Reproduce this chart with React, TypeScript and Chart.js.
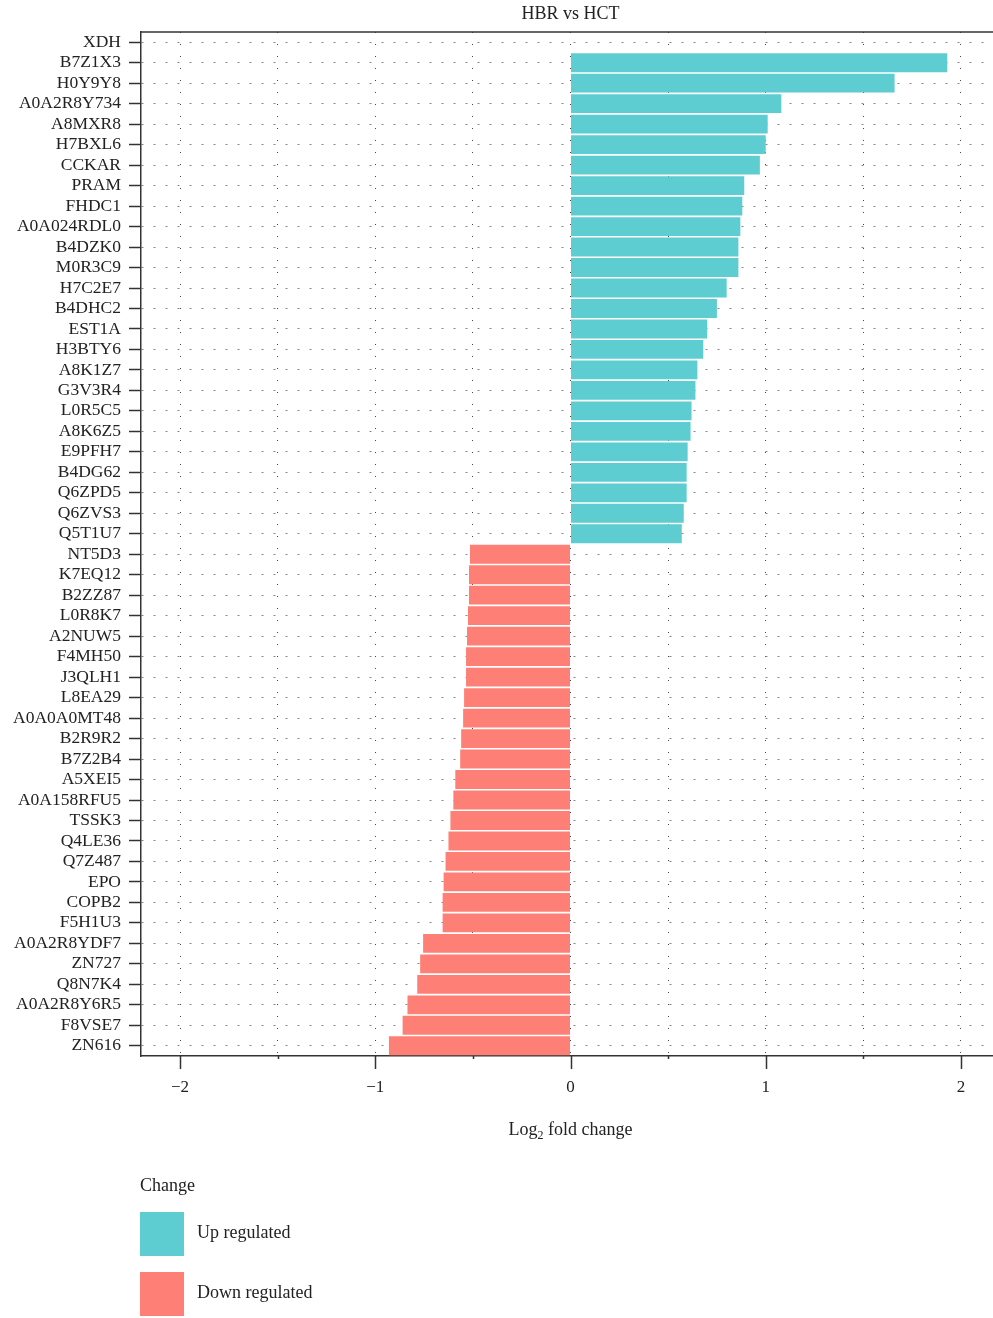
import React, { useEffect, useRef } from "react";
import { Chart, registerables } from "chart.js";

Chart.register(...registerables);

const geneLabels = [
  "XDH", "B7Z1X3", "H0Y9Y8", "A0A2R8Y734", "A8MXR8", "H7BXL6", "CCKAR", "PRAM", "FHDC1", "A0A024RDL0",
  "B4DZK0", "M0R3C9", "H7C2E7", "B4DHC2", "EST1A", "H3BTY6", "A8K1Z7", "G3V3R4", "L0R5C5", "A8K6Z5",
  "E9PFH7", "B4DG62", "Q6ZPD5", "Q6ZVS3", "Q5T1U7", "NT5D3", "K7EQ12", "B2ZZ87", "L0R8K7", "A2NUW5",
  "F4MH50", "J3QLH1", "L8EA29", "A0A0A0MT48", "B2R9R2", "B7Z2B4", "A5XEI5", "A0A158RFU5", "TSSK3", "Q4LE36",
  "Q7Z487", "EPO", "COPB2", "F5H1U3", "A0A2R8YDF7", "ZN727", "Q8N7K4", "A0A2R8Y6R5", "F8VSE7", "ZN616",
];

const log2FoldChange: (number | null)[] = [
  null, 1.93, 1.66, 1.08, 1.01, 1.0, 0.97, 0.89, 0.88, 0.87,
  0.86, 0.86, 0.8, 0.75, 0.7, 0.68, 0.65, 0.64, 0.62, 0.615,
  0.6, 0.595, 0.595, 0.58, 0.57, -0.515, -0.52, -0.52, -0.525, -0.53,
  -0.535, -0.535, -0.545, -0.55, -0.56, -0.565, -0.59, -0.6, -0.615, -0.625,
  -0.64, -0.65, -0.655, -0.655, -0.755, -0.77, -0.785, -0.835, -0.86, -0.93,
];

const xTickValues = [-2, -1.5, -1, -0.5, 0, 0.5, 1, 1.5, 2];
const chartTitle = "HBR vs HCT";
const legendTitle = "Change";
const legendLabels = ["Up regulated", "Down regulated"];

const UP_COLOR = "#5ECDD1";
const DOWN_COLOR = "#FE7F76";
const FONT = "'Liberation Serif', 'DejaVu Serif', serif";

const decorPlugin = {
  id: "decor",
  afterDraw(chart: any) {
    const { ctx, chartArea, scales } = chart;
    const xs = scales.x;
    ctx.save();
    ctx.strokeStyle = "#333";
    ctx.lineWidth = 1.5;
    ctx.beginPath();
    ctx.moveTo(chartArea.left, chartArea.top);
    ctx.lineTo(chartArea.right, chartArea.top);
    ctx.stroke();
    for (const v of xTickValues) {
      const px = Math.round(xs.getPixelForValue(v)) + 0.5;
      const len = Number.isInteger(v) ? 13 : 3;
      ctx.beginPath();
      ctx.moveTo(px, chartArea.bottom);
      ctx.lineTo(px, chartArea.bottom + len);
      ctx.stroke();
    }
    ctx.fillStyle = "#222";
    ctx.font = `18px ${FONT}`;
    ctx.textAlign = "center";
    ctx.textBaseline = "middle";
    const cx = (chartArea.left + chartArea.right) / 2;
    ctx.fillText(chartTitle, cx, 14);
    const big = `18px ${FONT}`;
    const small = `12px ${FONT}`;
    ctx.textAlign = "left";
    ctx.font = big;
    const w1 = ctx.measureText("Log").width;
    const w3 = ctx.measureText(" fold change").width;
    ctx.font = small;
    const w2 = ctx.measureText("2").width;
    const x0 = cx - (w1 + w2 + w3) / 2;
    const ty = 1130;
    ctx.font = big;
    ctx.fillText("Log", x0, ty);
    ctx.font = small;
    ctx.fillText("2", x0 + w1, ty + 6);
    ctx.font = big;
    ctx.fillText(" fold change", x0 + w1 + w2, ty);
    ctx.font = big;
    ctx.fillText(legendTitle, 140, 1186);
    const colors = [UP_COLOR, DOWN_COLOR];
    const tops = [1212, 1272];
    for (let i = 0; i < 2; i++) {
      ctx.fillStyle = colors[i];
      ctx.fillRect(140, tops[i], 44, 44);
      ctx.fillStyle = "#222";
      ctx.fillText(legendLabels[i], 197, tops[i] + 21);
    }
    ctx.restore();
  },
};

export default function App() {
  const ref = useRef<HTMLCanvasElement | null>(null);
  useEffect(() => {
    if (!ref.current) return;
    const upData = log2FoldChange.map((v) => (v !== null && v > 0 ? v : null));
    const downData = log2FoldChange.map((v) => (v !== null && v < 0 ? v : null));
    const chart = new Chart(ref.current, {
      type: "bar",
      data: {
        labels: geneLabels,
        datasets: [
          { label: legendLabels[0], data: upData, backgroundColor: UP_COLOR, grouped: false, barPercentage: 0.92, categoryPercentage: 1 },
          { label: legendLabels[1], data: downData, backgroundColor: DOWN_COLOR, grouped: false, barPercentage: 0.92, categoryPercentage: 1 },
        ],
      },
      options: {
        indexAxis: "y",
        responsive: false,
        animation: false,
        layout: { padding: { top: 32, left: 0, right: 0, bottom: 0 } },
        plugins: { legend: { display: false }, tooltip: { enabled: false }, title: { display: false } },
        scales: {
          x: {
            type: "linear",
            min: -2.2,
            max: 2.2,
            afterFit: (s: any) => { s.height = 262; },
            ticks: {
              stepSize: 0.5,
              includeBounds: false,
              autoSkip: false,
              maxRotation: 0,
              padding: 21,
              color: "#222",
              font: { family: FONT, size: 17 },
              callback: (v: any) => {
                const n = Number(v);
                if (!Number.isInteger(n)) return "";
                return n < 0 ? "\u2212" + Math.abs(n) : String(n);
              },
            },
            grid: { display: true, drawTicks: false, color: "#444", lineWidth: 1 },
            border: { display: true, color: "#333", width: 1.5, dash: [1, 11] },
          },
          y: {
            type: "category",
            offset: true,
            afterFit: (s: any) => { s.width = 141; },
            ticks: { padding: 8, color: "#222", autoSkip: false, font: { family: FONT, size: 17.5 } },
            grid: { display: true, offset: false, drawTicks: true, tickLength: 12, tickColor: "#333", tickWidth: 1.5, color: "#888", lineWidth: 1 },
            border: { display: true, color: "#333", width: 1.5, dash: [2, 10] },
          },
        },
      },
      plugins: [decorPlugin],
    } as any);
    return () => chart.destroy();
  }, []);
  return (
    <div style={{ position: "absolute", left: 0, top: 0, width: 993, height: 1318, overflow: "hidden", background: "#fff" }}>
      <canvas ref={ref} width={1000} height={1318} style={{ display: "block" }} />
    </div>
  );
}
